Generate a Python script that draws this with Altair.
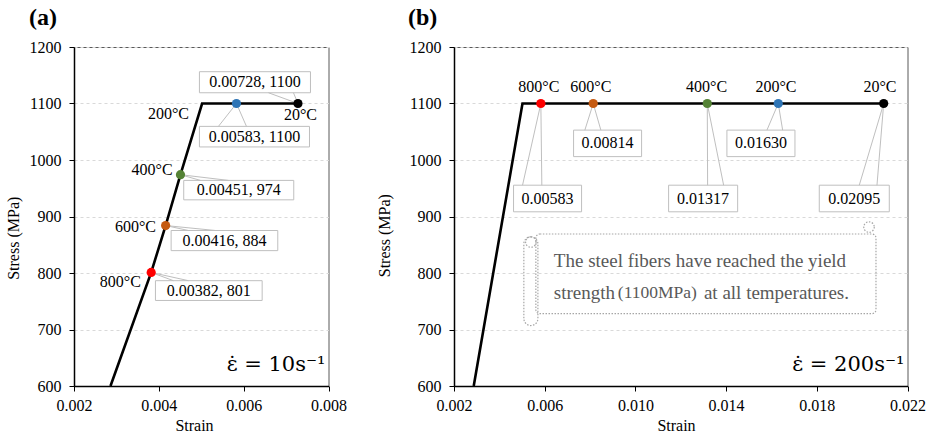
import altair as alt
import pandas as pd

FONT = "Liberation Serif"
MATH_FONT = "DejaVu Serif"

TEMPS = ["800°C", "600°C", "400°C", "200°C", "20°C"]
POINT_COLORS = ["#ff0000", "#c55a11", "#548235", "#2e75b6", "#000000"]
Y_TICKS = [600, 700, 800, 900, 1000, 1100, 1200]
Y_TITLE = "Stress (MPa)"

# ---------------- panel (a): strain rate 10 s^-1 ----------------
A_X_DOMAIN = [0.002, 0.008]
A_X_TICKS = [0.002, 0.004, 0.006, 0.008]
A_CURVE_STRAIN = [0.00286, 0.00382, 0.00416, 0.00451, 0.00502, 0.00728]
A_CURVE_STRESS = [600, 801, 884, 974, 1100, 1100]
A_POINT_STRAIN = [0.00382, 0.00416, 0.00451, 0.00583, 0.00728]
A_POINT_STRESS = [801, 884, 974, 1100, 1100]
A_CALLOUT_TEXT = ["0.00382, 801", "0.00416, 884", "0.00451, 974", "0.00583, 1100", "0.00728, 1100"]
A_BOX_X1 = [0.00392, 0.00429, 0.004587, 0.004957, 0.004957]
A_BOX_X2 = [0.006436, 0.006804, 0.007181, 0.007552, 0.007575]
A_BOX_TOP = [786.4, 875.2, 963.9, 1059.5, 1156.3]
A_BOX_BOTTOM = [751.4, 839.6, 929.5, 1023.1, 1119.0]
A_LEADER_X1 = [0.004344, 0.004698, 0.004981, 0.005405, 0.006585]
A_LEADER_X2 = [0.004698, 0.005335, 0.005641, 0.006066, 0.007174]
A_LEADER_Y = [786.4, 875.2, 963.9, 1059.5, 1119.0]
A_TEMP_X = [0.003094, 0.003448, 0.003842, 0.004226, 0.00734]
A_TEMP_Y = [783.3, 882.3, 982.8, 1081.7, 1079.4]
A_RATE_TEXT = "ε̇ = 10s⁻¹"
A_RATE_POS = [0.008, 637]
A_YTITLE_POS = [0.000594, 861.5]

# ---------------- panel (b): strain rate 200 s^-1 ----------------
B_X_DOMAIN = [0.002, 0.022]
B_X_TICKS = [0.002, 0.006, 0.010, 0.014, 0.018, 0.022]
B_CURVE_STRAIN = [0.00287, 0.00502, 0.02095]
B_CURVE_STRESS = [600, 1100, 1100]
B_POINT_STRAIN = [0.00583, 0.00814, 0.01317, 0.01630, 0.02095]
B_POINT_STRESS = [1100, 1100, 1100, 1100, 1100]
B_CALLOUT_TEXT = ["0.00583", "0.00814", "0.01317", "0.01630", "0.02095"]
B_BOX_X1 = [0.004626, 0.007273, 0.011464, 0.014036, 0.018109]
B_BOX_X2 = [0.007626, 0.010273, 0.014509, 0.017037, 0.021197]
B_BOX_TOP = [955.4, 1052.9, 955.4, 1052.9, 955.4]
B_BOX_BOTTOM = [908.3, 1006.0, 908.3, 1006.0, 908.3]
B_LEADER_X1 = [0.005023, 0.007771, 0.013185, 0.015801, 0.019873]
B_LEADER_X2 = [0.005874, 0.008477, 0.013891, 0.016494, 0.020654]
B_LEADER_Y = [955.4, 1052.9, 955.4, 1052.9, 955.4]
B_TEMP_X = [0.005742, 0.008036, 0.013141, 0.016198, 0.020787]
B_TEMP_Y = [1130, 1130, 1130, 1130, 1130]
B_RATE_TEXT = "ε̇ = 200s⁻¹"
B_RATE_POS = [0.022, 637]
B_YTITLE_POS = [-0.00105, 866]

# scroll-shaped note in panel (b)
NOTE_BODY_X = [0.00561, 0.02061]
NOTE_BODY_Y = [869, 728]
NOTE_ROLL_X = [0.00508, 0.0057]
NOTE_ROLL_Y = [864, 707]
NOTE_CURL_X = [0.005389, 0.020302]
NOTE_CURL_Y = [854.8, 881.3]
NOTE_PARTS = ["The steel fibers have reached the yield", "strength", "(1100MPa)", "at all temperatures."]
NOTE_PART_X = [0.006404, 0.006404, 0.009227, 0.013022]
NOTE_PART_Y = [821.3, 764.9, 764.9, 764.9]
NOTE_PART_SIZE = [19, 19, 17.5, 19]

AXIS_STYLE = dict(labelFont=FONT, titleFont=FONT, labelFontSize=16, titleFontSize=16,
                  titleFontWeight="normal", labelColor="black", titleColor="black",
                  tickColor="black", domainColor="black", domainWidth=1.5,
                  tickSize=5, tickWidth=1, labelFlush=False, labelOverlap=False)


def panel(tag, xdom, xticks, curve_s, curve_v, pt_s, pt_v, callouts,
          bx1, bx2, btop, bbot, lx1, lx2, ly, tx, ty, rate_text, rate_pos, ytitle_pos,
          width, height, title_dx, xtitle_x, extra=None):
    xs = alt.Scale(domain=xdom, nice=False, zero=False)
    ys = alt.Scale(domain=[600, 1200], nice=False, zero=False)
    xaxis = alt.Axis(values=xticks, format=".3f", title="Strain", grid=False,
                     labelPadding=6, titleX=xtitle_x, titleY=31, **AXIS_STYLE)
    yaxis = alt.Axis(values=Y_TICKS, format="d", title=None, grid=True,
                     gridColor="#d9d9d9", gridDash=[3, 3], gridWidth=1,
                     labelPadding=8, **AXIS_STYLE)

    def X(f):
        return alt.X(f, type="quantitative", scale=xs, axis=xaxis)

    def Y(f):
        return alt.Y(f, type="quantitative", scale=ys, axis=yaxis)

    curve = pd.DataFrame({"i": range(len(curve_s)), "s": curve_s, "v": curve_v})
    pts = pd.DataFrame({
        "temp": TEMPS, "s": pt_s, "v": pt_v, "label": callouts,
        "bx1": bx1, "bx2": bx2, "by1": btop, "by2": bbot,
        "lx1": lx1, "lx2": lx2, "ly": ly, "tx": tx, "ty": ty,
    })
    pts["bxc"] = (pts["bx1"] + pts["bx2"]) / 2
    pts["byc"] = (pts["by1"] + pts["by2"]) / 2
    rate = pd.DataFrame({"s": [rate_pos[0]], "v": [rate_pos[1]], "t": [rate_text]})
    ytl = pd.DataFrame({"s": [ytitle_pos[0]], "v": [ytitle_pos[1]], "t": [Y_TITLE]})

    base = alt.Chart(pts)
    boxes = base.mark_rect(fill="white", stroke="#bfbfbf", strokeWidth=1).encode(
        x=X("bx1"), x2="bx2", y=Y("by1"), y2="by2")
    lead1 = base.mark_rule(color="#bfbfbf", strokeWidth=1).encode(
        x=X("s"), y=Y("v"), x2="lx1", y2="ly")
    lead2 = base.mark_rule(color="#bfbfbf", strokeWidth=1).encode(
        x=X("s"), y=Y("v"), x2="lx2", y2="ly")
    line = alt.Chart(curve).mark_line(color="black", strokeWidth=2.6).encode(
        x=X("s"), y=Y("v"), order="i:Q")
    dots = base.mark_point(filled=True, size=85, opacity=1).encode(
        x=X("s"), y=Y("v"),
        color=alt.Color("temp:N", scale=alt.Scale(domain=TEMPS, range=POINT_COLORS), legend=None))
    ctext = base.mark_text(font=FONT, fontSize=16, color="black", baseline="middle").encode(
        x=X("bxc"), y=Y("byc"), text="label:N")
    ttext = base.mark_text(font=FONT, fontSize=16, color="black", baseline="middle").encode(
        x=X("tx"), y=Y("ty"), text="temp:N")
    rtext = alt.Chart(rate).mark_text(font=MATH_FONT, fontSize=21, color="black",
                                      align="right", baseline="middle", dx=-3).encode(
        x=X("s"), y=Y("v"), text="t:N")
    ytext = alt.Chart(ytl).mark_text(font=FONT, fontSize=16, color="black", angle=270,
                                     align="center", baseline="middle").encode(
        x=X("s"), y=Y("v"), text="t:N")

    layers = [boxes, lead1, lead2]
    if extra is not None:
        layers += extra(X, Y)
    layers += [line, dots, ctext, ttext, rtext, ytext]
    return alt.layer(*layers).properties(
        width=width, height=height,
        title=alt.TitleParams(text=tag, anchor="start", frame="group", dx=title_dx,
                              fontSize=24, fontWeight="bold", font=FONT, color="black",
                              baseline="bottom", offset=-15))


def note_layers(X, Y):
    body = pd.DataFrame({"x1": [NOTE_BODY_X[0]], "x2": [NOTE_BODY_X[1]],
                         "y1": [NOTE_BODY_Y[0]], "y2": [NOTE_BODY_Y[1]]})
    roll = pd.DataFrame({"x1": [NOTE_ROLL_X[0]], "x2": [NOTE_ROLL_X[1]],
                         "y1": [NOTE_ROLL_Y[0]], "y2": [NOTE_ROLL_Y[1]]})
    curl = pd.DataFrame({"x": NOTE_CURL_X, "y": NOTE_CURL_Y})
    parts = pd.DataFrame({"t": NOTE_PARTS, "x": NOTE_PART_X, "y": NOTE_PART_Y, "size": NOTE_PART_SIZE})
    dot = dict(stroke="#a6a6a6", strokeWidth=1.2, strokeDash=[1.5, 1.5], fillOpacity=0)
    l1 = alt.Chart(body).mark_rect(cornerRadius=4, **dot).encode(
        x=X("x1"), x2="x2", y=Y("y1"), y2="y2")
    l2 = alt.Chart(roll).mark_rect(cornerRadius=7, **dot).encode(
        x=X("x1"), x2="x2", y=Y("y1"), y2="y2")
    l3 = alt.Chart(curl).mark_point(shape="circle", size=110, filled=False, opacity=1,
                                    color="#a6a6a6", strokeWidth=1.2, strokeDash=[1.5, 1.5]).encode(
        x=X("x"), y=Y("y"))
    l4 = alt.Chart(parts).mark_text(font=FONT, color="#595959", align="left", baseline="middle").encode(
        x=X("x"), y=Y("y"), text="t:N",
        size=alt.Size("size:Q", scale=None, legend=None))
    return [l1, l2, l3, l4]


chart_a = panel("(a)", A_X_DOMAIN, A_X_TICKS, A_CURVE_STRAIN, A_CURVE_STRESS,
                A_POINT_STRAIN, A_POINT_STRESS, A_CALLOUT_TEXT,
                A_BOX_X1, A_BOX_X2, A_BOX_TOP, A_BOX_BOTTOM,
                A_LEADER_X1, A_LEADER_X2, A_LEADER_Y, A_TEMP_X, A_TEMP_Y,
                A_RATE_TEXT, A_RATE_POS, A_YTITLE_POS, 254.5, 339, -45, 120)

chart_b = panel("(b)", B_X_DOMAIN, B_X_TICKS, B_CURVE_STRAIN, B_CURVE_STRESS,
                B_POINT_STRAIN, B_POINT_STRESS, B_CALLOUT_TEXT,
                B_BOX_X1, B_BOX_X2, B_BOX_TOP, B_BOX_BOTTOM,
                B_LEADER_X1, B_LEADER_X2, B_LEADER_Y, B_TEMP_X, B_TEMP_Y,
                B_RATE_TEXT, B_RATE_POS, B_YTITLE_POS, 453.5, 339, -46, 222,
                extra=note_layers)

chart = alt.hconcat(chart_a, chart_b, spacing=125, bounds="flush").properties(
    padding={"left": 5, "right": 0, "top": 5, "bottom": 5}
).configure_view(
    stroke="#595959", strokeWidth=1
)

chart.save("out.html", embed_options={"renderer": "svg", "actions": False})
